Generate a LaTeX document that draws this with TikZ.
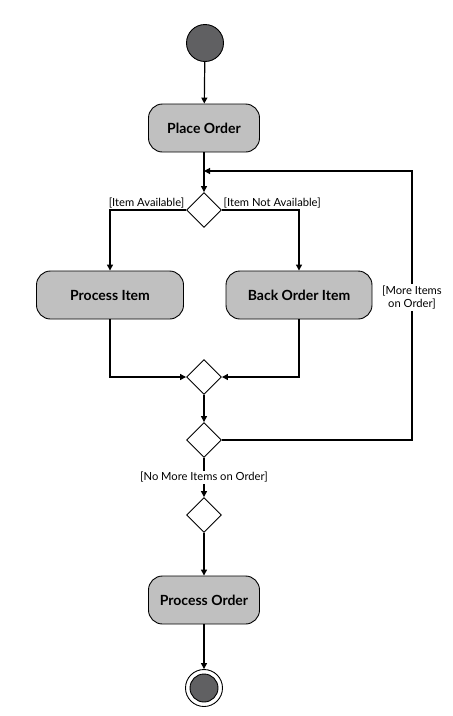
\documentclass[tikz,border=0pt]{standalone}
\usepackage{fontspec}
\setmainfont{Lato}
\usetikzlibrary{arrows.meta,shapes.geometric}
\definecolor{boxgray}{RGB}{192,192,192}
\definecolor{dotgray}{RGB}{96,96,98}
\begin{document}
\begin{tikzpicture}[x=1pt,y=-1pt,
  act/.style={draw, rounded corners=14pt, fill=boxgray, minimum width=111pt, minimum height=48pt, font=\fontsize{14}{16}\selectfont\bfseries, line width=0.9pt},
  dec/.style={draw, diamond, minimum width=35pt, minimum height=35pt, inner sep=0pt, fill=white, line width=0.9pt},
  flow/.style={line width=1.2pt, -{Triangle[length=6pt,width=6pt]}},
  guard/.style={font=\fontsize{11.2}{13}\selectfont, inner sep=1.5pt},
  dot/.style={circle, draw, fill=dotgray, line width=0.9pt}
]
\useasboundingbox (0,0) rectangle (453,716);
\node[dot, minimum size=37pt] (start) at (205,43) {};
\node[act] (place) at (204,128) {Place Order};
\coordinate (loopin) at (204,171);
\node[dec] (d1) at (204,210) {};
\node[act, minimum width=147pt] (pitem) at (110,295) {Process Item};
\node[act, minimum width=146pt] (bitem) at (299,295) {Back Order Item};
\node[dec] (m) at (204,377) {};
\node[dec] (d3) at (204,440) {};
\coordinate (corner1) at (412,440);
\coordinate (corner2) at (412,171);
\node[dec] (d4) at (204,515) {};
\node[act] (porder) at (204,600) {Process Order};
\node[circle, draw, line width=0.9pt, minimum size=37pt] (end) at (204,688) {};
\node[dot, minimum size=28pt] (endin) at (end.center) {};

\node[guard, anchor=south east] (g1) at (d1.west) {[Item Available]};
\node[guard, anchor=south west] (g2) at (d1.east) {[Item Not Available]};

\draw[flow] (start) -- (place);
\draw[flow] (place) -- (d1);
\draw[flow] (d1.west) -| (pitem.north);
\draw[flow] (d1.east) -| (bitem.north);
\draw[flow] (pitem.south) |- (m.west);
\draw[flow] (bitem.south) |- (m.east);
\draw[flow] (m) -- (d3);
\draw[flow] (d3) -- node[guard, fill=white, pos=0.5] {[No More Items on Order]} (d4);
\draw[flow] (d3.east) -- (corner1) -- node[guard, fill=white, align=center, pos=0.53] {[More Items\\on Order]} (corner2) -- (loopin);
\draw[flow] (d4) -- (porder);
\draw[flow] (porder) -- (end);
\end{tikzpicture}
\end{document}
